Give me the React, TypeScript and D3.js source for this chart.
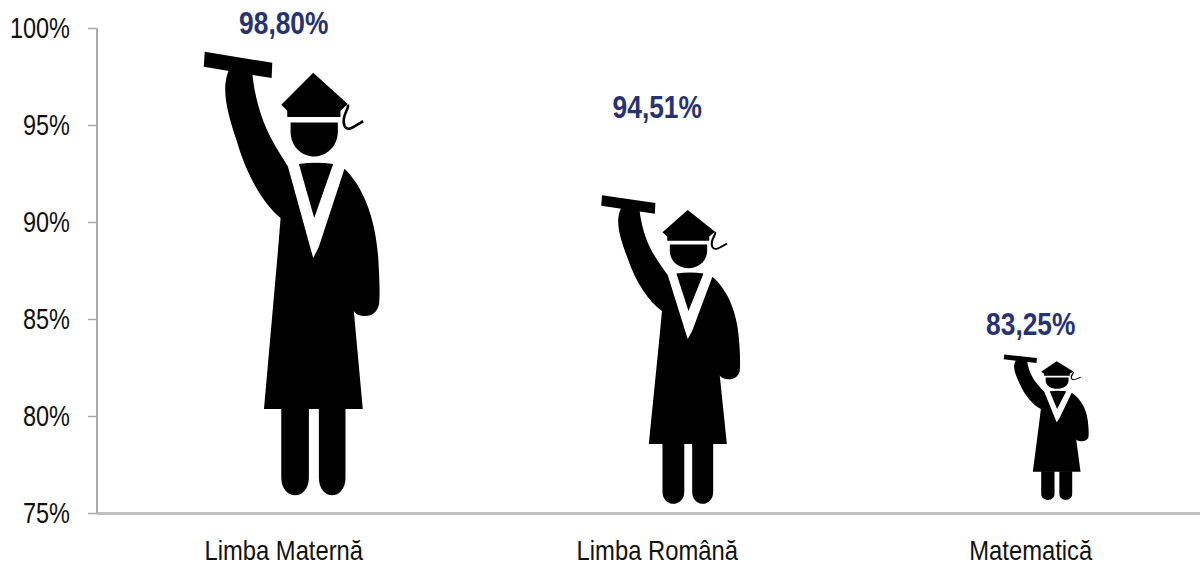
import React from "react";
import * as d3 from "d3";

const categories = ["Limba Maternă", "Limba Română", "Matematică"];
const values = [98.8, 94.51, 83.25];
const valueLabels = ["98,80%", "94,51%", "83,25%"];
const yTicks = [75, 80, 85, 90, 95, 100];
// Figure extents, in axis units
const figureTop = [98.8, 91.4, 83.2];
const figureBottom = [75.95, 75.5, 75.7];
// Label baselines, in axis units
const labelBase = [99.7, 95.4, 84.2];

const W = 1200, H = 563;
const X0 = 97, X1 = 1217.5, Y0 = 513.5, Y1 = 28.5;

// Pictogram outline in its own box
const ICON = { x0: 39, x1: 568, y0: 153, y1: 1483 };
const ICON_OFFSET = [{ l: -80, r: 96 }, { l: -56, r: 83 }, { l: -27, r: 58 }];

const pScroll = "M42,153 L245,186 L243,232 L39,198 Z";
const pBodyLeft =
  "M115,206 L185,218 C190,270 205,340 235,400 C255,440 275,470 292,497 L368,772 L385,738 L462,504 " +
  "C520,560 560,660 565,800 C568,850 568,890 566,910 C560,935 545,946 525,946 C508,946 495,940 490,930 " +
  "L517,1225 L220,1225 L262,750 L270,652 C220,610 170,530 138,420 C118,360 100,300 104,250 C106,232 110,218 115,206 Z";
const pTie = "M325,490 Q376,482 428,490 L371,652 Z";
const pHead = "M300,365 L442,365 L442,395 C440,440 405,467 371,467 C335,467 302,440 300,395 Z";
const pCap = "M368,216 L472,310 L450,330 L450,349 L290,349 L290,330 L272,312 Z";
const pTassel = "M472,312 C478,325 450,345 462,375 C472,395 490,378 518,361";
const pLegL = "M272,1222 L355,1222 L355,1430 C355,1501 272,1501 272,1430 Z";
const pLegR = "M385,1222 L465,1222 L465,1430 C465,1501 385,1501 385,1430 Z";

function Figure({ cx, top, bottom, off }: { cx: number; top: number; bottom: number; off: { l: number; r: number } }) {
  const sx = (off.r - off.l) / (ICON.x1 - ICON.x0);
  const sy = (bottom - top) / (ICON.y1 - ICON.y0);
  const tx = cx + off.l - ICON.x0 * sx;
  const ty = top - ICON.y0 * sy;
  return (
    <g transform={`translate(${tx},${ty}) scale(${sx},${sy})`}>
      <path d={pScroll} fill="#000" />
      <path d={pBodyLeft} fill="#000" />
      <path d={pTie} fill="#000" />
      <path d={pHead} fill="#000" />
      <path d={pCap} fill="#000" />
      <path d={pTassel} fill="none" stroke="#000" strokeWidth={8} />
      <path d={pLegL} fill="#000" />
      <path d={pLegR} fill="#000" />
    </g>
  );
}

export default function App() {
  const y = d3.scaleLinear().domain([75, 100]).range([Y0, Y1]);
  const x = d3.scaleBand().domain(categories).range([X0, X1]);
  const center = (c: string) => (x(c) as number) + x.bandwidth() / 2;
  const font = "'Liberation Sans', Arial, sans-serif";
  return (
    <svg width={W} height={H} style={{ position: "absolute", left: 0, top: 0, background: "#fff" }}>
      <line x1={X0} x2={X0} y1={y(100)} y2={Y0} stroke="#a8a8a8" strokeWidth={2} />
      <line x1={X0} x2={W} y1={Y0} y2={Y0} stroke="#c0c0c0" strokeWidth={3} />
      {yTicks.map((t) => (
        <g key={t}>
          <line x1={88} x2={X0} y1={y(t)} y2={y(t)} stroke="#a8a8a8" strokeWidth={1.5} />
          <text
            transform={`translate(70,${y(t) + 9.5}) scale(0.81,1)`}
            textAnchor="end"
            fontFamily={font}
            fontSize={29}
            fill="#111"
          >
            {t}%
          </text>
        </g>
      ))}
      {categories.map((c, i) => (
        <g key={c}>
          <Figure cx={center(c)} top={y(figureTop[i])} bottom={y(figureBottom[i])} off={ICON_OFFSET[i]} />
          <text
            transform={`translate(${center(c)},${y(labelBase[i])}) scale(0.85,1)`}
            textAnchor="middle"
            fontFamily={font}
            fontWeight="bold"
            fontSize={31}
            fill="#283272"
            data-value={values[i]}
          >
            {valueLabels[i]}
          </text>
          <text
            transform={`translate(${center(c)},560) scale(0.85,1)`}
            textAnchor="middle"
            fontFamily={font}
            fontSize={28}
            fill="#111"
          >
            {c}
          </text>
        </g>
      ))}
    </svg>
  );
}
